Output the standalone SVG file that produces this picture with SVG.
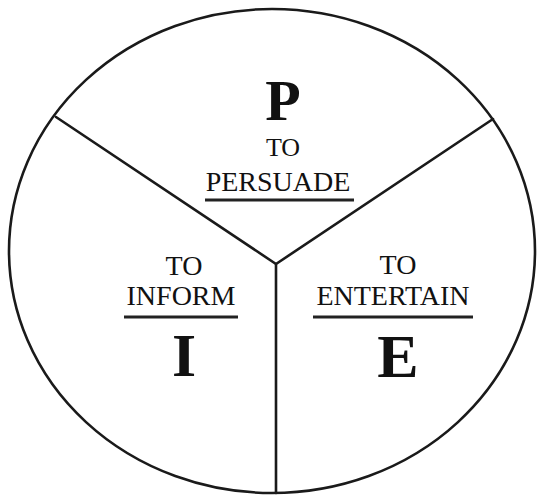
<svg xmlns="http://www.w3.org/2000/svg" width="538" height="497" viewBox="0 0 538 497">
<style>
.ln{fill:none;stroke:#1a1a1a;stroke-width:2.6;stroke-linecap:round}
.ul{fill:none;stroke:#222;stroke-width:3}
.big{font-family:"Liberation Serif","Times New Roman",serif;font-weight:bold;fill:#111;text-anchor:middle}
.sm{font-family:"Liberation Serif","Times New Roman",serif;font-size:28px;fill:#111;text-anchor:middle}
</style>
<rect width="538" height="497" fill="#fff"/>
<g id="pie">
<ellipse class="ln" cx="272" cy="251" rx="263" ry="242"/>
</g>
<g id="connectors">
<polyline class="ln" points="56,117 276,264 493,119"/>
<line class="ln" x1="276" y1="264" x2="276" y2="493"/>
</g>
<g id="persuade">
<text class="big" x="283" y="120" font-size="58">P</text>
<text class="sm" x="283" y="156" font-size="26" style="font-size:26px">TO</text>
<text class="sm" x="278" y="191">PERSUADE</text>
<line class="ul" x1="205" y1="200" x2="354" y2="200"/>
</g>
<g id="inform">
<text class="sm" x="184" y="275">TO</text>
<text class="sm" x="181" y="305">INFORM</text>
<line class="ul" x1="124" y1="317" x2="238" y2="317"/>
<text class="big" x="184" y="376" font-size="62">I</text>
</g>
<g id="entertain">
<text class="sm" x="398" y="274">TO</text>
<text class="sm" x="393" y="305">ENTERTAIN</text>
<line class="ul" x1="313" y1="317" x2="473" y2="317"/>
<text class="big" x="398" y="377" font-size="62">E</text>
</g>
</svg>
